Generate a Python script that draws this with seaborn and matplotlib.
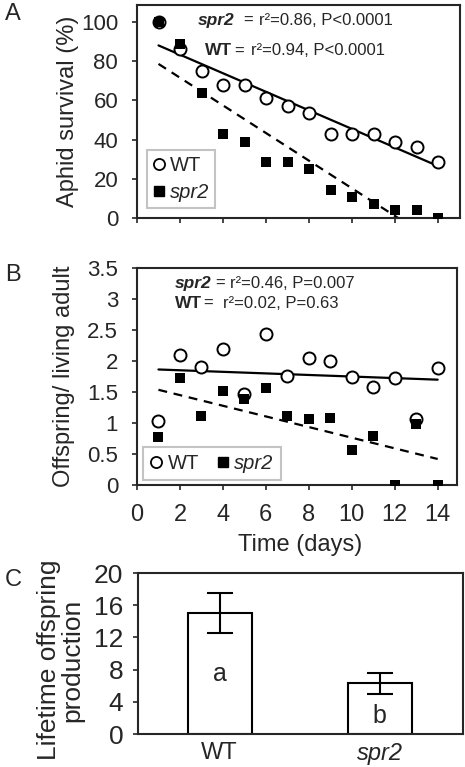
import numpy as np
import pandas as pd
import matplotlib
matplotlib.use("Agg")
import matplotlib.pyplot as plt
from matplotlib.lines import Line2D
import seaborn as sns

# ---- data ----
days = list(range(1, 15))

# panel A: aphid survival (%)
surv_wt = [100, 86, 75, 68, 68, 61, 57, 53.5, 43, 43, 43, 39, 36, 28.7]
surv_spr2 = [100, 89, 64, 43, 39, 28.7, 28.7, 25, 14.4, 10.7, 7.3, 3.9, 3.9, 0]

# panel B: offspring per living adult
off_wt = [1.03, 2.10, 1.90, 2.20, 1.46, 2.44, 1.75, 2.05, 2.00, 1.74, 1.58, 1.73, 1.06, 1.89]
off_spr2 = [0.78, 1.72, 1.11, 1.52, 1.39, 1.57, 1.12, 1.06, 1.08, 0.56, 0.79, 0.0, 0.98, 0.0]

# panel C: lifetime offspring production
genotypes = ["WT", "spr2"]
lifetime_mean = [15.0, 6.3]
lifetime_err = [2.5, 1.3]
sig_letters = ["a", "b"]
letter_y = [7.4, 2.3]

# tick labels
day_ticks = [0, 2, 4, 6, 8, 10, 12, 14]
surv_ticks = [0, 20, 40, 60, 80, 100]
off_ticks = [0, 0.5, 1, 1.5, 2, 2.5, 3, 3.5]
off_ticklabels = ["0", "0.5", "1", "1.5", "2", "2.5", "3", "3.5"]
life_ticks = [0, 4, 8, 12, 16, 20]

# regression statistics: (genotype, text)
stats_a = [("spr2", "r²=0.86, P<0.0001"), ("WT", "r²=0.94, P<0.0001")]
stats_b = [("spr2", "r²=0.46, P=0.007"), ("WT", "r²=0.02, P=0.63")]

sns.set_style("ticks")
plt.rcParams["font.family"] = ["Liberation Sans", "DejaVu Sans"]
plt.rcParams["axes.linewidth"] = 1.5
plt.rcParams["xtick.major.width"] = 1.2
plt.rcParams["ytick.major.width"] = 1.2
plt.rcParams["xtick.major.size"] = 3.5
plt.rcParams["ytick.major.size"] = 3.5

fig = plt.figure(figsize=(4.65, 7.67), dpi=100)
ax_a = fig.add_axes([0.2946, 0.7158, 0.6946, 0.2777])
ax_b = fig.add_axes([0.2946, 0.3677, 0.6882, 0.2829])
ax_c = fig.add_axes([0.2968, 0.0430, 0.6989, 0.2099])

tick_fs = 16
label_fs = 17
stat_fs = 12
dash = (0, (4, 3))


def draw_timecourse(ax, y_wt, y_spr2):
    sns.regplot(x=days, y=y_wt, scatter=False, ci=None, truncate=True,
                color="black", line_kws=dict(lw=1.6), ax=ax)
    sns.regplot(x=days, y=y_spr2, scatter=False, ci=None, truncate=True,
                color="black", line_kws=dict(lw=1.6, ls=dash), ax=ax)
    sns.scatterplot(x=days, y=y_wt, marker="o", s=75, color="white",
                    edgecolor="black", linewidth=1.4, zorder=3, ax=ax)
    sns.scatterplot(x=days, y=y_spr2, marker="s", s=62, color="black",
                    edgecolor="black", linewidth=0, zorder=4, ax=ax)


def stats_text(ax, rows, xs, ys):
    # xs: per row (name x, gap before "=" in points, stats x) in axes fraction
    for (name, txt), (x_name, eq_gap, x_txt), y in zip(rows, xs, ys):
        style = "italic" if name == "spr2" else "normal"
        t = ax.text(x_name, y, name, fontsize=stat_fs + 0.5, fontweight="bold",
                    fontstyle=style, va="center", transform=ax.transAxes)
        ax.annotate("=", xy=(1, 0.5), xycoords=t, xytext=(eq_gap, 0),
                    textcoords="offset points", fontsize=stat_fs, va="center")
        ax.text(x_txt, y, txt, fontsize=stat_fs, va="center", transform=ax.transAxes)


def legend_handles():
    return [Line2D([], [], marker="o", ls="", mfc="white", mec="black", mew=1.3, ms=8, label="WT"),
            Line2D([], [], marker="s", ls="", mfc="black", mec="black", ms=7.5, label="spr2")]


# ---- panel A ----
draw_timecourse(ax_a, surv_wt, surv_spr2)
ax_a.set_xlim(0, 15)
ax_a.set_ylim(0, 108.7)
ax_a.set_xticks(day_ticks)
ax_a.set_xticklabels([])
ax_a.set_yticks(surv_ticks)
ax_a.tick_params(axis="y", labelsize=tick_fs, pad=10)
ax_a.set_ylabel("Aphid survival (%)", fontsize=label_fs, va="center")
ax_a.yaxis.set_label_coords(-0.213, 0.5)
stats_text(ax_a, stats_a,
           [(0.189, 6, 0.378), (0.211, 1.5, 0.353)],
           [0.926, 0.784])
leg = ax_a.legend(handles=legend_handles(), loc="lower left", bbox_to_anchor=(0.03, 0.047),
                  borderaxespad=0, fontsize=14.5, frameon=True, fancybox=False,
                  edgecolor="#b5b5b5", handlelength=0.6, handletextpad=0.25,
                  labelspacing=0.4, borderpad=0.3)
leg.get_frame().set_linewidth(1.5)
leg.get_texts()[1].set_fontstyle("italic")

# ---- panel B ----
draw_timecourse(ax_b, off_wt, off_spr2)
ax_b.set_xlim(0, 14.9)
ax_b.set_ylim(0, 3.5)
ax_b.set_xticks(day_ticks)
ax_b.set_yticks(off_ticks)
ax_b.set_yticklabels(off_ticklabels)
ax_b.tick_params(axis="y", labelsize=tick_fs, pad=10)
ax_b.tick_params(axis="x", labelsize=17, pad=10)
ax_b.set_ylabel("Offspring/ living adult", fontsize=label_fs, va="center")
ax_b.yaxis.set_label_coords(-0.228, 0.5)
ax_b.set_xlabel("Time (days)", fontsize=label_fs)
ax_b.xaxis.label.set_va("center")
ax_b.xaxis.set_label_coords(0.51, -0.278)
stats_text(ax_b, stats_b,
           [(0.119, 2.5, 0.29), (0.119, 0.5, 0.269)],
           [0.927, 0.838])
leg = ax_b.legend(handles=legend_handles(), loc="lower left", bbox_to_anchor=(0.02, 0.023),
                  borderaxespad=0, ncol=2, fontsize=14.5, frameon=True, fancybox=False,
                  edgecolor="#b5b5b5", handlelength=0.6, handletextpad=0.25,
                  columnspacing=0.9, borderpad=0.35)
leg.get_frame().set_linewidth(1.5)
leg.get_texts()[1].set_fontstyle("italic")

# ---- panel C ----
sns.barplot(x=genotypes, y=lifetime_mean, color="white", saturation=1,
            edgecolor="black", linewidth=1.5, width=0.4, ax=ax_c)
xpos = np.arange(len(genotypes))
ax_c.errorbar(xpos, lifetime_mean, yerr=lifetime_err, fmt="none", ecolor="black",
              elinewidth=1.5, capsize=9.5, capthick=1.5, zorder=5)
for x, lab, y in zip(xpos, sig_letters, letter_y):
    ax_c.text(x, y, lab, ha="center", va="center", fontsize=18)
ax_c.set_xlim(-0.51, 1.52)
ax_c.set_ylim(0, 20)
ax_c.set_yticks(life_ticks)
ax_c.tick_params(axis="y", labelsize=19, pad=7)
ax_c.tick_params(axis="x", length=0, labelsize=17, pad=6)
ax_c.get_xticklabels()[1].set_fontstyle("italic")
ax_c.set_ylabel("Lifetime offspring\nproduction", fontsize=19, linespacing=0.95, va="center")
ax_c.yaxis.set_label_coords(-0.237, 0.46)

for ax in (ax_a, ax_b, ax_c):
    for side in ("top", "right", "left", "bottom"):
        ax.spines[side].set_visible(True)
        ax.spines[side].set_linewidth(1.5)

fig.text(13 / 465, 1 - 14 / 767, "A", fontsize=17, ha="center", va="center")
fig.text(13 / 465, 1 - 275 / 767, "B", fontsize=17, ha="center", va="center")
fig.text(13 / 465, 1 - 580 / 767, "C", fontsize=17, ha="center", va="center")

fig.savefig("out.png", dpi=100)
plt.close(fig)
